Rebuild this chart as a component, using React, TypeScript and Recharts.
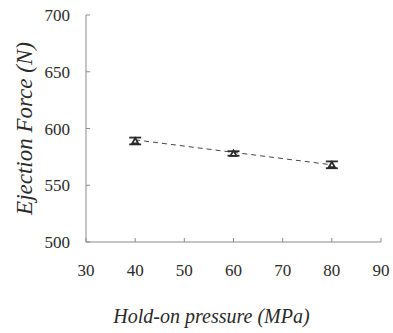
import {
  ComposedChart,
  ErrorBar,
  Line,
  Scatter,
  XAxis,
  YAxis,
} from "recharts";

const pressure = [40, 60, 80];
const force = [589, 578, 568];
const forceErr = [3, 2, 3];
const trendX = [40, 80];
const trendY = [590, 568];
const xTicks = [30, 40, 50, 60, 70, 80, 90];
const yTicks = [500, 550, 600, 650, 700];

const points = pressure.map((x, i) => ({ x, y: force[i], err: forceErr[i] }));
const trend = trendX.map((x, i) => ({ x, y: trendY[i] }));

const font = "Liberation Serif";
const ink = "#2a2a2a";
const axisColor = "#8a8a8a";

// small hollow triangle marker
function Tri(props: any) {
  const { cx, cy } = props;
  if (cx == null || cy == null) return null;
  const s = 3;
  return (
    <path
      d={`M${cx},${cy - s} L${cx + s},${cy + s * 0.8} L${cx - s},${cy + s * 0.8} Z`}
      fill="#fff"
      stroke={ink}
      strokeWidth={1.8}
    />
  );
}

export default function App() {
  return (
    <div style={{ position: "absolute", left: 0, top: 0, background: "#fff", fontFamily: font }}>
      <ComposedChart
        width={393}
        height={333}
        margin={{ top: 15, right: 12, bottom: 0, left: 0 }}
      >
        <XAxis
          type="number"
          dataKey="x"
          domain={[30, 90]}
          ticks={xTicks}
          height={91}
          tickSize={-4}
          tickMargin={26}
          stroke={axisColor}
          tick={{ fontSize: 17, fill: ink, fontFamily: font }}
          label={{
            value: "Hold-on pressure (MPa)",
            position: "insideBottom",
            offset: 10,
            dx: -22,
            style: { fontSize: 20, fill: ink, fontFamily: font, fontStyle: "italic" },
          }}
        />
        <YAxis
          type="number"
          domain={[500, 700]}
          ticks={yTicks}
          width={86}
          tickSize={-4}
          tickMargin={20}
          stroke={axisColor}
          tick={{ fontSize: 17, fill: ink, fontFamily: font }}
          label={{
            value: "Ejection Force (N)",
            angle: -90,
            position: "insideLeft",
            offset: 24,
            style: { fontSize: 23, fill: ink, fontFamily: font, fontStyle: "italic", textAnchor: "middle" },
          }}
        />
        <Line
          data={trend}
          dataKey="y"
          type="linear"
          stroke="#444"
          strokeWidth={1}
          strokeDasharray="5 4"
          dot={false}
          isAnimationActive={false}
        />
        <Scatter data={points} dataKey="y" shape={<Tri />} isAnimationActive={false}>
          <ErrorBar dataKey="err" direction="y" width={6} stroke={ink} strokeWidth={1.8} />
        </Scatter>
      </ComposedChart>
    </div>
  );
}
